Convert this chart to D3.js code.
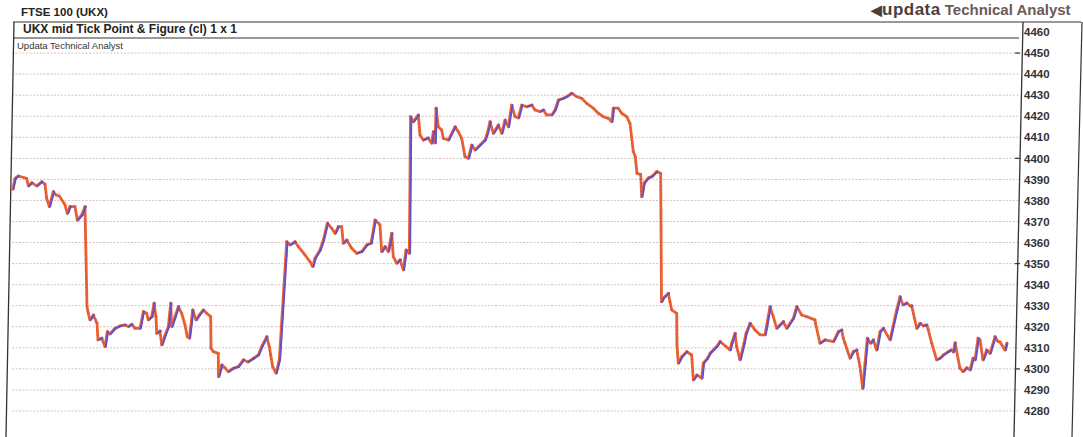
<!DOCTYPE html>
<html><head><meta charset="utf-8">
<script src="https://cdn.jsdelivr.net/npm/d3@7"></script>
<style>body{margin:0;background:#fff}svg{display:block}</style>
</head><body><div id="c"></div>
<script>
// Column positions (chart column units) and closing P&F values of turning points
const colPos = [0.7,3,6.3,14.7,16.3,19.7,24.7,29.7,33,34.7,37.3,41.3,44,47.3,53,55.3,58,63,65.3,69.7,73,75,
  76.3,78,81.3,85,86,89.7,93,95.3,98,103,108,113,116.3,119.7,123,128,131.3,134.7,136.3,139.7,142,144,144.7,148,149.7,153,156.3,158.7,
  159.7,163,166.3,169.7,173,175.3,177.3,180.7,184,187.3,191.3,194.7,198.7,199,201.3,206.3,206.5,209.7,213,216.3,221.3,226.3,231.3,236,241.3,246.3,
  249.7,254.7,257.3,258.7,260.7,264,267.3,274.7,278,283,286.3,293,298,300.7,303,308,311.3,315.3,319.7,323,326.3,329.7,331.3,334.7,339.7,344.7,
  349.7,354.7,359,363,368,369.7,373,376.3,379.7,381.3,384.7,388,391.3,394,397.3,398.5,401.3,406.3,408,411.3,416,419.7,421.3,423,424,426.3,
  429.7,431.3,436.3,443,446.3,449.7,453,456.3,459.7,463,468,473,475.3,478,481.3,486.3,489.7,493,496.3,499.7,503,506.3,509.7,514.7,519.7,523,
  528,531.3,534.7,539.7,543,546.3,551.3,554.7,559.7,564.7,569.7,574.7,581.3,586.3,591.3,596.3,599.7,601.3,606.3,609.7,614.7,618,621.3,623.3,
  625,628.7,629.7,632,636.3,639.7,644.7,648.7,649.5,651.3,656.3,658,659.7,664.7,665,666.3,669.7,674.7,679.7,681.3,684.7,689.7,691.3,695.3,698,
  704.7,708,718,719.7,723,724.7,728,732,734,738,743,748,753,758,761.3,764.7,771.3,774.7,781.3,784.7,789.7,794.7,803,803.5,808,813,821.3,826.3,
  829.7,831.3,833,838,841.3,844.7,848,850.7,853,855.3,858.7,861.3,864.7,868,871.3,878,881.3,884.7,888,891,894.7,899,899.7,904.7,908,911.3,
  914.7,916.3,919.7,924.7,928,931.3,936.3,939,941.3,943,948,951,954.7,958,961,963,966,968,971,974.7,978,983,986,988,993,994.7];
const price = [4385.3,4390.5,4391.6,4390.5,4386.9,4388.4,4386.9,4388.9,4387.8,4381,4377.1,4384.2,4382.6,4382.1,4377.9,4373.9,4377.1,4377.1,4370.7,4373.1,4377.1,4329.6,
  4326.4,4323.3,4325.6,4321.7,4313.8,4314.6,4310.6,4317.7,4316.6,4319.3,4320.4,4320.9,4320.1,4321.2,4319.3,4319.3,4327.2,4326.4,4323.3,4324.8,4331.2,4324.8,4316.9,4318,4311.4,4316,4320.1,4331.2,
  4320.1,4324.8,4329.6,4326.4,4320.9,4315.3,4314.6,4328,4323.3,4325.6,4328,4326.4,4324.8,4309.8,4308.2,4307.4,4296.3,4301.9,4300.5,4298.7,4300.3,4301.1,4304.3,4303.3,4305,4306.6,
  4310.6,4315.3,4310.6,4306.6,4301.1,4298,4304.3,4360.4,4358.9,4360.4,4358.1,4354.1,4350.9,4348.6,4352.6,4356.5,4361.2,4369.2,4366.8,4364.4,4367.6,4367.6,4359.7,4361.2,4357.3,4354.9,
  4355.7,4358.9,4359.7,4370.7,4368.4,4355.7,4358.1,4355.7,4364.4,4353.3,4350.2,4351.8,4347,4356.5,4354.9,4419.8,4417.4,4420.6,4411.1,4408.7,4409.7,4407.2,4412.7,4407.3,4423.8,4415,
  4413.5,4409.5,4408.7,4415,4412.7,4409.5,4400.8,4400,4406.3,4404,4406.3,4408.7,4411.9,4417.4,4411.9,4415.8,4411.9,4418.2,4415,4425.3,4419.8,4419.2,4425.3,4424.5,4425.3,4423,
  4422.2,4423,4420.6,4420.6,4423,4427.7,4428.5,4429.3,4430.9,4429.3,4428.5,4426.1,4423.8,4421.4,4419.8,4419,4417.4,4423.8,4423.8,4421.4,4419.8,4416.6,4403.2,4400.8,4392.9,4392.4,
  4381.8,4388.2,4390.7,4391.3,4393.7,4392.9,4331.9,4333.6,4335.9,4331.9,4328,4326.4,4311.4,4302.7,4305.8,4308.2,4306.6,4294.8,4297.1,4295.6,4302.7,4305,4307.4,4310.6,4313,4309,4312.2,
  4316.9,4310.6,4304.3,4312.2,4316.9,4321.7,4318.5,4316.2,4316.2,4329.6,4324.8,4319.3,4322.5,4319.3,4324.1,4329.6,4325.6,4324.8,4323.3,4321.7,4312.2,4313.8,4313,4317.7,4318.5,
  4314.6,4312.2,4305.1,4308.2,4309,4301.1,4290.8,4302.7,4314.6,4312.2,4313.8,4309,4317.7,4319.3,4313.8,4320.9,4328,4334.3,4330.4,4331.3,4329.6,4330,4319.3,4321.7,4320.4,4320.9,
  4318.5,4312.2,4304.3,4305.1,4306.6,4308.2,4309,4308,4312.4,4300.3,4298.7,4300.5,4299.5,4305.1,4304.3,4314.6,4313.8,4304.3,4309,4307.4,4315.3,4313,4312.8,4309,4312.2,4307.4];
const yTicks = [4460,4450,4440,4430,4420,4410,4400,4390,4380,4370,4360,4350,4340,4330,4320,4310,4300,4290,4280];
const gridVals = [4450,4440,4430,4420,4410,4400,4390,4380,4370,4360,4350,4340,4330,4320,4310,4300,4290,4280];
const majorTicks = [4450,4400,4350,4300];

const W = 1083, H = 437;
const svg = d3.select('#c').append('svg').attr('width', W).attr('height', H);
const LEFT = 10, AXX = 1019, RIGHT = 1078, TOP = 22, SEP = 38;
const x = d3.scaleLinear().domain([0, 1000]).range([12, 1012]);
const y = d3.scaleLinear().domain([4280, 4460]).range([411, 32]);
const FONT = 'Liberation Sans, Arial, sans-serif';

// titles
svg.append('text').attr('x', 21).attr('y', 16).attr('font-family', FONT)
  .attr('font-weight', 'bold').attr('font-size', 11.5).attr('fill', '#222').text('FTSE 100 (UKX)');
const logo = svg.append('text').attr('x', 871).attr('y', 15).attr('font-family', FONT)
  .attr('font-weight', 'bold').attr('fill', '#5a4d4b');
logo.append('tspan').attr('font-size', 14).attr('fill', '#4a3f3d').text('◀');
logo.append('tspan').attr('font-size', 17).attr('fill', '#4a3f3d').attr('letter-spacing', 0.5).text('updata');
logo.append('tspan').attr('font-size', 15).attr('dx', 4).attr('fill', '#6b5a57').text('Technical Analyst');

// gridlines
svg.append('g').selectAll('line').data(gridVals).join('line')
  .attr('x1', LEFT + 2).attr('x2', AXX).attr('y1', d => y(d)).attr('y2', d => y(d))
  .attr('stroke', '#d6c3bc').attr('stroke-width', 1).attr('stroke-dasharray', '2,1.5');

// frame
svg.append('line').attr('x1', LEFT + 3).attr('x2', RIGHT + 3).attr('y1', TOP).attr('y2', TOP).attr('stroke', '#333').attr('stroke-width', 1.2);
svg.append('line').attr('x1', LEFT + 3).attr('x2', AXX).attr('y1', SEP).attr('y2', SEP).attr('stroke', '#333').attr('stroke-width', 1.2);
svg.append('line').attr('x1', LEFT + 4).attr('x2', LEFT - 4).attr('y1', TOP).attr('y2', H).attr('stroke', '#333').attr('stroke-width', 1.3);
svg.append('line').attr('x1', RIGHT + 4).attr('x2', RIGHT - 6).attr('y1', TOP).attr('y2', H).attr('stroke', '#333').attr('stroke-width', 1.2);

// header texts
svg.append('text').attr('x', 23).attr('y', 33).attr('font-family', FONT)
  .attr('font-weight', 'bold').attr('font-size', 12).attr('fill', '#222').text('UKX mid Tick Point & Figure (cl) 1 x 1');
svg.append('text').attr('x', 17).attr('y', 49).attr('font-family', FONT)
  .attr('font-size', 9.5).attr('fill', '#333').text('Updata Technical Analyst');

// axis
const axisG = svg.append('g').attr('transform', `translate(${AXX},0)`);
axisG.call(d3.axisRight(y).tickValues(yTicks).tickSize(0).tickPadding(5).tickFormat(d3.format('d')));
axisG.select('.domain').remove();
axisG.selectAll('text').attr('font-family', FONT).attr('font-weight', 'bold')
  .attr('font-size', 11.5).attr('fill', '#333');
svg.append('line').attr('x1', AXX + 4).attr('x2', AXX - 5).attr('y1', TOP).attr('y2', H).attr('stroke', '#333').attr('stroke-width', 1.3);
svg.append('g').selectAll('line').data(majorTicks).join('line')
  .attr('x1', AXX - 4).attr('x2', AXX + 1).attr('y1', d => y(d)).attr('y2', d => y(d)).attr('stroke', '#333').attr('stroke-width', 1.2);

// P&F trace: up moves drawn in X colour, down moves in O colour, each speckled with the other
const UP = '#6550c8', DOWN = '#f0602c';
const pts = colPos.map((c, i) => [x(c), y(price[i])]);
const segs = d3.pairs(pts.map((p, i) => ({p, v: price[i]})));
const g = svg.append('g').attr('stroke-linecap', 'round').attr('fill', 'none');
const seg = (sel, dx) => sel.attr('x1', d => d[0].p[0] + dx).attr('y1', d => d[0].p[1])
  .attr('x2', d => d[1].p[0] + dx).attr('y2', d => d[1].p[1]);
g.selectAll('line.base').data(segs).join('line').attr('class', 'base').call(seg, 0)
  .attr('stroke', DOWN).attr('stroke-width', 2.8);
g.selectAll('line.up').data(segs.filter(d => d[1].v > d[0].v)).join('line').attr('class', 'up').call(seg, 0.8)
  .attr('stroke', UP).attr('stroke-width', 2);
g.selectAll('line.spk').data(segs.filter(d => d[1].v <= d[0].v)).join('line').attr('class', 'spk').call(seg, -0.6)
  .attr('stroke', UP).attr('stroke-width', 1).attr('stroke-dasharray', '1,3').attr('stroke-linecap', 'butt').attr('opacity', 0.7);
</script></body></html>
